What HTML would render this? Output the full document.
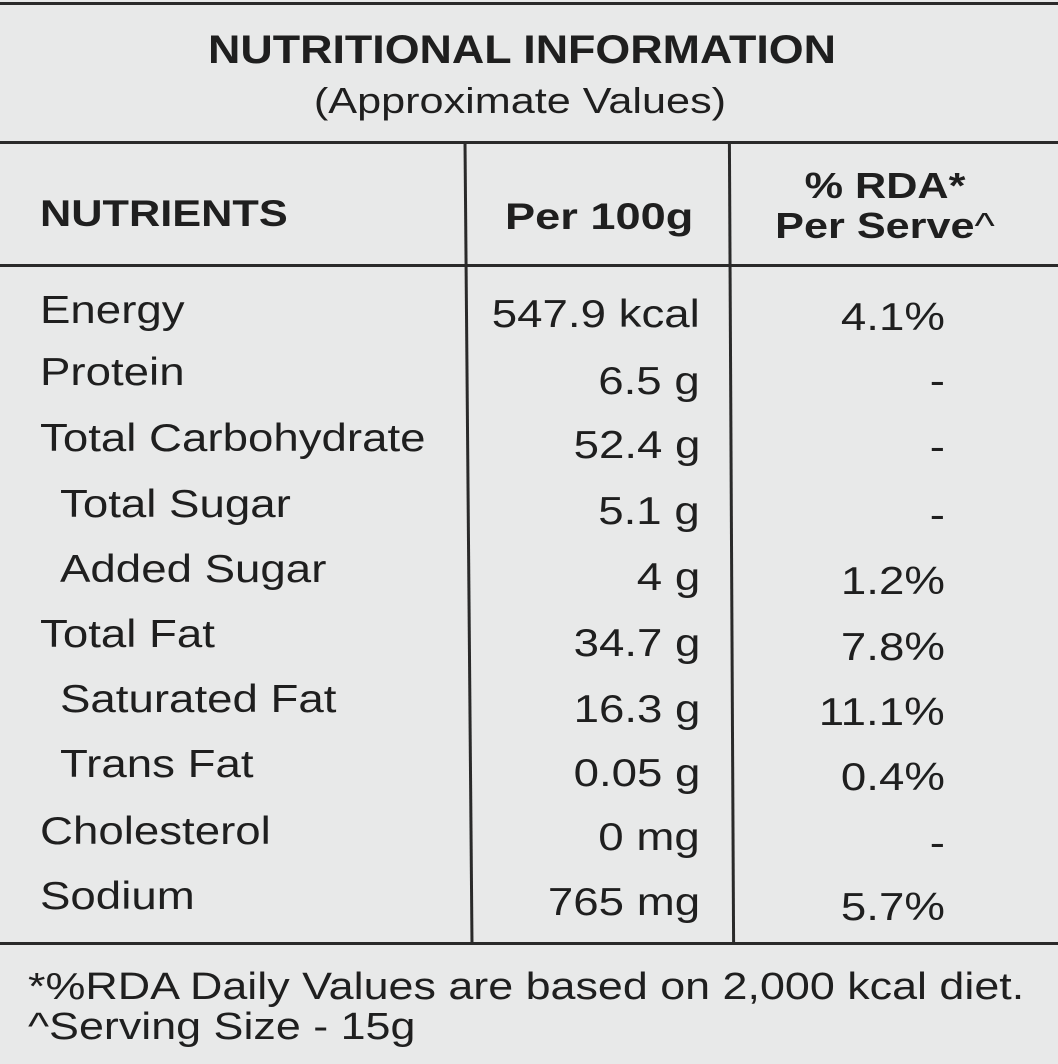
<!DOCTYPE html>
<html><head><meta charset="utf-8"><style>
body{margin:0;width:1058px;height:1064px;overflow:hidden;background:#e8e9e9;font-family:"Liberation Sans",sans-serif;color:#1f1f1f;position:relative}
.a{position:absolute;white-space:nowrap}
.l{position:absolute;background:#2a2a2a}
.r{font-size:39px;transform:scaleX(1.17);transform-origin:left}
.v{right:358px;text-align:right;transform-origin:right}
.p{right:113px;text-align:right;transform-origin:right}
</style></head><body>
<div class="l" style="left:0;top:2px;width:1058px;height:3px"></div>
<div class="a" style="left:0;width:1044px;text-align:center;top:28px;font-size:40px;font-weight:bold;transform:scaleX(1.12)">NUTRITIONAL INFORMATION</div>
<div class="a" style="left:0;width:1040px;text-align:center;top:80px;font-size:36px;transform:scaleX(1.2)">(Approximate Values)</div>
<div class="l" style="left:0;top:141px;width:1058px;height:3px"></div>
<div class="l" style="left:0;top:264px;width:1058px;height:3px"></div>
<div class="l" style="left:0;top:942px;width:1058px;height:3px"></div>
<div class="l" style="left:467px;top:143px;width:3px;height:800px;transform:skewX(0.5deg)"></div>
<div class="l" style="left:730px;top:143px;width:3px;height:800px;transform:skewX(0.3deg)"></div>
<div class="a" style="left:40px;top:193px;font-size:37px;font-weight:bold;transform:scaleX(1.17);transform-origin:left">NUTRIENTS</div>
<div class="a" style="right:365px;top:196px;font-size:37px;font-weight:bold;transform:scaleX(1.22);transform-origin:right">Per 100g</div>
<div class="a" style="left:740px;width:290px;text-align:center;top:166px;font-size:36px;font-weight:bold;line-height:40px;transform:scaleX(1.2)">% RDA*<br>Per Serve<span style="font-weight:normal">^</span></div>

<div class="a r" style="left:40px;top:289px">Energy</div><div class="a r v" style="top:293px">547.9 kcal</div><div class="a r p" style="top:296px">4.1%</div>
<div class="a r" style="left:40px;top:351px">Protein</div><div class="a r v" style="top:360px">6.5 g</div><div class="a r p" style="top:360px">-</div>
<div class="a r" style="left:40px;top:417px">Total Carbohydrate</div><div class="a r v" style="top:424px">52.4 g</div><div class="a r p" style="top:426px">-</div>
<div class="a r" style="left:60px;top:483px">Total Sugar</div><div class="a r v" style="top:490px">5.1 g</div><div class="a r p" style="top:494px">-</div>
<div class="a r" style="left:60px;top:548px">Added Sugar</div><div class="a r v" style="top:556px">4 g</div><div class="a r p" style="top:560px">1.2%</div>
<div class="a r" style="left:40px;top:613px">Total Fat</div><div class="a r v" style="top:622px">34.7 g</div><div class="a r p" style="top:626px">7.8%</div>
<div class="a r" style="left:60px;top:678px">Saturated Fat</div><div class="a r v" style="top:688px">16.3 g</div><div class="a r p" style="top:691px">11.1%</div>
<div class="a r" style="left:60px;top:743px">Trans Fat</div><div class="a r v" style="top:752px">0.05 g</div><div class="a r p" style="top:756px">0.4%</div>
<div class="a r" style="left:40px;top:810px">Cholesterol</div><div class="a r v" style="top:816px">0 mg</div><div class="a r p" style="top:822px">-</div>
<div class="a r" style="left:40px;top:875px">Sodium</div><div class="a r v" style="top:881px">765 mg</div><div class="a r p" style="top:886px">5.7%</div>

<div class="a" style="left:28px;top:966px;font-size:38px;transform:scaleX(1.18);transform-origin:left">*%RDA Daily Values are based on 2,000 kcal diet.</div>
<div class="a" style="left:28px;top:1006px;font-size:38px;transform:scaleX(1.18);transform-origin:left">^Serving Size - 15g</div>
</body></html>
